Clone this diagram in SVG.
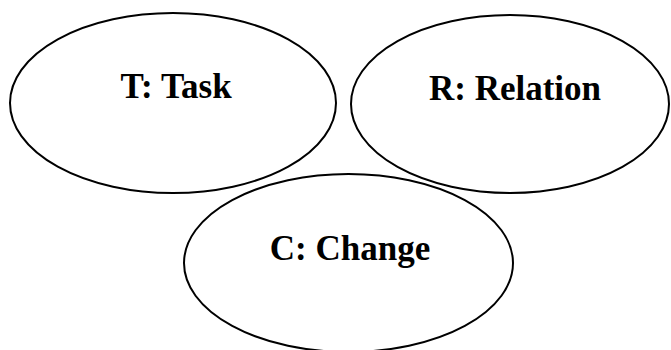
<svg xmlns="http://www.w3.org/2000/svg" width="671" height="350" viewBox="0 0 671 350">
  <style>
    .shape { fill: #ffffff; stroke: #000000; stroke-width: 2; }
    .label { font-family: "Liberation Serif", "Times New Roman", serif; font-weight: bold; font-size: 35px; fill: #000000; text-anchor: middle; }
  </style>
  <rect width="671" height="350" fill="#ffffff"/>
  <g id="task">
    <ellipse class="shape" cx="173" cy="103" rx="163" ry="90"/>
    <text class="label" x="176" y="98">T: Task</text>
  </g>
  <g id="relation">
    <ellipse class="shape" cx="510" cy="104" rx="159" ry="89"/>
    <text class="label" x="515" y="100">R: Relation</text>
  </g>
  <g id="change">
    <ellipse class="shape" cx="348.5" cy="263" rx="164.5" ry="89"/>
    <text class="label" x="350" y="260">C: Change</text>
  </g>
  <g id="connectors"/>
</svg>
